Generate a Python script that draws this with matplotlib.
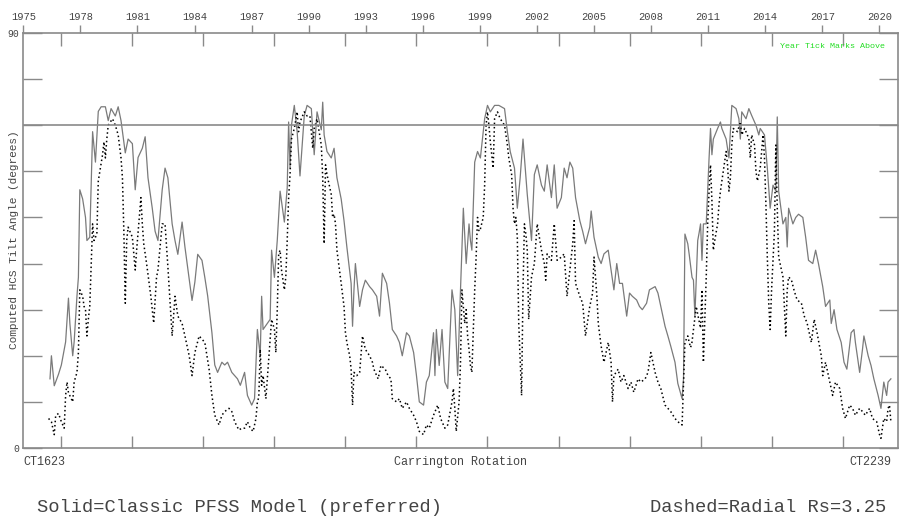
#!/usr/bin/env python3
"""
plot.py — HCS tilt angle per Carrington rotation
Output: out.png (906x517)
"""

import matplotlib
matplotlib.use("Agg")
import matplotlib.pyplot as plt

# ── Data: solid line (Classic PFSS model) ────────────────────
cr_classic = [
    1642, 1643, 1645, 1648, 1650, 1653, 1655, 1656, 1658, 1659, 1661, 1662, 1663, 1665, 1667, 1668,
    1670, 1672, 1674, 1676, 1678, 1681, 1683, 1685, 1688, 1690, 1692, 1695, 1697, 1700, 1702, 1704,
    1707, 1709, 1711, 1714, 1716, 1718, 1721, 1723, 1725, 1728, 1730, 1732, 1735, 1737, 1739, 1742,
    1744, 1746, 1749, 1751, 1753, 1756, 1758, 1760, 1763, 1765, 1767, 1770, 1772, 1774, 1776, 1779,
    1781, 1784, 1786, 1788, 1790, 1791, 1792, 1795, 1797, 1798, 1800, 1802, 1804, 1807, 1809, 1810,
    1811, 1812, 1814, 1816, 1818, 1821, 1823, 1826, 1828, 1830, 1833, 1834, 1835, 1837, 1840, 1842,
    1844, 1847, 1849, 1851, 1854, 1855, 1856, 1857, 1860, 1862, 1864, 1867, 1869, 1872, 1874, 1876,
    1879, 1881, 1883, 1886, 1888, 1890, 1893, 1895, 1898, 1900, 1902, 1905, 1907, 1909, 1912, 1913,
    1914, 1916, 1918, 1920, 1922, 1925, 1927, 1929, 1931, 1933, 1935, 1937, 1938, 1939, 1941, 1943,
    1945, 1948, 1950, 1952, 1955, 1958, 1962, 1964, 1966, 1969, 1971, 1973, 1975, 1976, 1978, 1981,
    1983, 1985, 1988, 1990, 1992, 1995, 1997, 1999, 2002, 2004, 2006, 2008, 2010, 2012, 2015, 2017,
    2019, 2022, 2023, 2025, 2028, 2030, 2032, 2035, 2037, 2039, 2041, 2043, 2045, 2048, 2050, 2052,
    2055, 2057, 2059, 2062, 2064, 2068, 2070, 2072, 2075, 2077, 2079, 2082, 2084, 2087, 2088, 2089,
    2091, 2092, 2094, 2095, 2096, 2098, 2099, 2100, 2101, 2102, 2104, 2105, 2106, 2107, 2108, 2109,
    2112, 2114, 2115, 2118, 2120, 2121, 2122, 2125, 2127, 2128, 2129, 2132, 2134, 2136, 2139, 2141,
    2142, 2145, 2147, 2149, 2151, 2153, 2154, 2155, 2158, 2160, 2161, 2162, 2165, 2167, 2169, 2172,
    2174, 2176, 2179, 2181, 2183, 2186, 2188, 2191, 2192, 2194, 2196, 2199, 2201, 2203, 2206, 2208,
    2209, 2212, 2214, 2215, 2218, 2220, 2222, 2225, 2227, 2229, 2231, 2232, 2234,
]
tilt_classic = [
    15, 20, 13.5, 16, 18, 23, 32.5, 27, 20, 23, 33, 37, 56, 54, 50, 45,
    45.7, 68.6, 62, 73, 74, 74, 71, 73.6, 72, 74, 71, 64, 67, 66, 56, 63,
    65, 67.5, 58.6, 52, 47, 45, 56, 60.7, 58.6, 48.6, 45, 42, 49, 43.6, 39, 32,
    36, 42, 40.7, 37, 33, 25, 18, 16.4, 18.6, 18, 18.6, 16.4, 15.7, 15, 13.6, 16.4,
    11.4, 9.3, 10.7, 25.7, 20, 32.9, 25.7, 27, 27.9, 42.9, 37, 45, 55.7, 49, 56.4, 70.7,
    60.7, 70, 74.3, 68.6, 59, 72, 74.3, 73.6, 63.6, 72.9, 69, 75, 67.9, 64.3, 62.9, 65,
    58.6, 54, 49.3, 43.6, 35.7, 26.4, 34.3, 40, 30.7, 34.3, 36.4, 35, 34.3, 32.9, 28.6, 37.9,
    35.7, 31.4, 25.7, 24.3, 22.9, 20, 25, 24.3, 20.7, 15.7, 10, 9.3, 14.3, 15.7, 25, 15.7,
    25.7, 17.9, 25.7, 14.3, 12.9, 34.3, 30, 15.7, 34.3, 52, 40, 48.6, 45, 42.9, 62, 64.3,
    62.9, 71.4, 74.3, 72.9, 74.3, 74.3, 73.6, 68.6, 64.3, 60.7, 52, 58.6, 67, 62.9, 55, 45,
    59.3, 61.4, 57, 55.7, 61.4, 54.3, 61.4, 52, 54.3, 60.7, 58.6, 62, 60.7, 54.3, 49.3, 47,
    44.3, 47.9, 51.4, 45.7, 41.4, 40, 42.1, 42.9, 38.6, 34.3, 40, 35.7, 35.7, 28.6, 33.6, 32.9,
    32.1, 30.7, 30, 31.4, 34.3, 35, 33.6, 30.7, 26.4, 24.3, 22.1, 18.6, 14, 10.7, 15, 46.4,
    44.3, 42, 37, 36.4, 28.6, 45, 46.7, 48.6, 40.7, 48.6, 48.6, 55.7, 62.9, 69.3, 63.6, 67,
    69.3, 70.7, 69.3, 67, 62.9, 68.6, 74.3, 73.6, 71.4, 67, 72.9, 71.4, 73.6, 72.1, 70, 67.9,
    69.3, 67.9, 60.7, 52, 57, 55.7, 71.8, 55.7, 48.6, 50, 43.6, 52, 48.6, 50, 50.7, 50,
    45.7, 40.7, 40, 42.9, 40, 35, 30.7, 32.1, 27, 30, 25.7, 22.9, 18.6, 17.1, 25, 25.7,
    22.9, 16.4, 21.4, 24.3, 20, 17.9, 15, 11.4, 8.6, 14.3, 11.4, 14.3, 15,
]

# ── Data: dashed line (Radial, Rs=3.25) ──────────────────────
cr_radial = [
    1641, 1643, 1645, 1646, 1648, 1650, 1652, 1653, 1654, 1655, 1658, 1659, 1661, 1662, 1663, 1665,
    1666, 1667, 1668, 1669, 1670, 1672, 1673, 1675, 1676, 1679, 1680, 1681, 1682, 1683, 1686, 1688,
    1690, 1692, 1693, 1694, 1695, 1696, 1697, 1700, 1702, 1703, 1706, 1707, 1708, 1710, 1713, 1715,
    1717, 1718, 1721, 1723, 1725, 1728, 1730, 1732, 1735, 1737, 1740, 1742, 1744, 1747, 1749, 1751,
    1754, 1756, 1758, 1761, 1763, 1765, 1768, 1770, 1772, 1775, 1777, 1779, 1781, 1783, 1785, 1787,
    1788, 1789, 1790, 1791, 1792, 1794, 1797, 1798, 1800, 1801, 1802, 1803, 1804, 1805, 1807, 1808,
    1809, 1810, 1811, 1812, 1814, 1816, 1817, 1818, 1821, 1823, 1825, 1827, 1828, 1830, 1833, 1834,
    1835, 1836, 1837, 1839, 1840, 1841, 1842, 1843, 1844, 1847, 1849, 1850, 1851, 1853, 1854, 1855,
    1856, 1858, 1860, 1862, 1864, 1867, 1869, 1870, 1873, 1875, 1878, 1880, 1882, 1883, 1886, 1888,
    1890, 1893, 1895, 1898, 1900, 1902, 1905, 1907, 1909, 1912, 1914, 1915, 1917, 1920, 1922, 1925,
    1926, 1927, 1928, 1930, 1931, 1932, 1934, 1935, 1936, 1937, 1938, 1939, 1941, 1942, 1943, 1944,
    1945, 1947, 1948, 1949, 1950, 1951, 1952, 1954, 1955, 1957, 1959, 1962, 1963, 1964, 1965, 1967,
    1968, 1969, 1970, 1971, 1972, 1974, 1975, 1976, 1977, 1978, 1979, 1981, 1983, 1985, 1988, 1990,
    1991, 1992, 1995, 1997, 1999, 2002, 2004, 2006, 2009, 2010, 2011, 2012, 2015, 2017, 2019, 2022,
    2024, 2025, 2027, 2028, 2030, 2032, 2035, 2037, 2038, 2039, 2042, 2044, 2046, 2049, 2051, 2053,
    2056, 2058, 2061, 2063, 2065, 2068, 2070, 2072, 2075, 2077, 2079, 2082, 2084, 2087, 2088, 2089,
    2091, 2092, 2093, 2094, 2095, 2097, 2098, 2099, 2100, 2101, 2102, 2104, 2105, 2106, 2107, 2108,
    2109, 2110, 2112, 2113, 2114, 2115, 2118, 2119, 2120, 2121, 2122, 2123, 2126, 2128, 2129, 2131,
    2134, 2135, 2136, 2138, 2139, 2140, 2142, 2144, 2145, 2146, 2147, 2148, 2149, 2150, 2152, 2153,
    2154, 2155, 2158, 2160, 2161, 2162, 2164, 2166, 2168, 2171, 2173, 2175, 2178, 2180, 2182, 2185,
    2186, 2188, 2191, 2193, 2195, 2198, 2200, 2202, 2205, 2207, 2209, 2212, 2214, 2216, 2219, 2221,
    2224, 2226, 2227, 2228, 2229, 2231, 2232, 2233, 2234,
]
tilt_radial = [
    6.4, 5.7, 2.9, 7, 7.5, 5.7, 4.3, 11.4, 14.3, 12, 10, 14.3, 16.4, 20.7, 34.3, 32.9,
    30.7, 30, 24.3, 27.9, 30.7, 48.6, 45, 46.4, 57.9, 63.6, 66.4, 62.9, 67, 70, 71.4, 70,
    67.9, 62.9, 58.6, 47, 31.4, 45, 47.9, 45.7, 38.6, 42.9, 54.3, 48.6, 44.3, 40, 32.9, 27.1,
    37, 38.6, 48.6, 48.6, 39.3, 24.3, 32.9, 28.6, 27, 24.3, 20, 15.7, 20.7, 24.3, 23.6, 22.9,
    17.1, 11.4, 7.1, 5, 7.1, 7.9, 8.6, 7.9, 5.7, 3.9, 4.3, 4.3, 5.7, 4.3, 3.6, 6.4,
    10, 11, 21.4, 13.6, 15.7, 10.7, 23.6, 27.9, 25.7, 20.7, 30, 42.1, 42.9, 38.6, 34.3, 37,
    45, 54.3, 59.3, 67, 69.3, 72.9, 68.6, 70.7, 72.9, 72, 72, 65, 69.3, 71.4, 65.7, 58.6,
    44.3, 61.4, 59.3, 56.4, 55, 50, 50.7, 48.6, 42.9, 35.7, 30.7, 25, 22.9, 20, 17.1, 9.3,
    16.4, 15.7, 16.4, 24.3, 21.4, 20, 18.6, 17.1, 15, 17.9, 17.1, 15.7, 15, 10.7, 10, 10.7,
    8.6, 10, 8.6, 7.1, 5.7, 3.6, 2.9, 5, 4.3, 7.1, 8.6, 9.3, 6.4, 4.3, 5, 10,
    12.9, 8.6, 3.6, 10, 18.6, 34.3, 27, 30, 24.3, 21.4, 17.9, 16.4, 34.3, 41.4, 50, 47,
    47.5, 50, 57, 70, 72.9, 70, 66.4, 60.7, 71.4, 72.9, 71.4, 70, 67.9, 65.7, 62.9, 59.3,
    52, 48.6, 50, 45.7, 27, 11.4, 34.3, 48.6, 46.4, 42.9, 27.9, 37.1, 40, 48.6, 42.9, 40,
    36.4, 42.1, 40.7, 48.6, 40.7, 41.4, 42.1, 32.9, 41.4, 44.3, 49.3, 35.7, 32.9, 31.4, 24.3, 30.7,
    33.6, 41.4, 33, 27, 22.1, 18.6, 22.9, 18.6, 10, 15.7, 17.1, 14.3, 15.7, 12.9, 14.3, 12.1,
    15, 14.3, 15, 16.4, 20.7, 16.4, 14.3, 12.9, 9.3, 8.6, 7.9, 6.4, 5.7, 5, 14.3, 22.9,
    24.3, 22.9, 21.8, 23, 25.7, 30.7, 29, 27.5, 26, 34.3, 18.6, 37.1, 48.6, 55.7, 61.4, 53.6,
    42.9, 45, 48.6, 52.9, 55.7, 57.9, 64.3, 61.4, 55.7, 58.6, 65.7, 69.3, 68.6, 70.7, 67.9, 69.3,
    67.1, 62.9, 67.9, 65.7, 60, 57.9, 60.7, 67.9, 62.9, 52.9, 41.4, 31.4, 25.7, 34.3, 47, 65.7,
    52, 41.4, 37.1, 24.3, 34.3, 37.1, 36.4, 34, 32.1, 31.4, 28.6, 27.1, 22.9, 27.9, 25, 20,
    15.7, 18.6, 14.3, 11.4, 14.3, 12.9, 8.6, 6.4, 9.3, 8.6, 7.1, 8.6, 7.9, 7.1, 8.6, 6.4,
    5.7, 2.9, 2.1, 4.3, 6.4, 5.7, 8.6, 9.3, 5.7,
]

CR_MIN, CR_MAX = 1623, 2239
cr_ticks = list(range(1650, 2201, 50))
year_ticks = list(range(1975, 2021, 3))
tilt_ticks = list(range(0, 91, 10))
tilt_labels = ["0", "", "", "", "", "", "", "", "", "90"]
REF_TILT = 70


# Carrington rotation <-> decimal year
def cr_a_anio(cr):
    return 1853.857 + (cr - 1) * 27.2753 / 365.25


def anio_a_cr(anio):
    return (anio - 1853.857) * 365.25 / 27.2753 + 1


# ── Figure ───────────────────────────────────────────────────
plt.rcParams["font.family"] = ["Liberation Mono", "DejaVu Sans Mono"]
GRIS = "#8a8a8a"
TEXTO = "#444444"

fig = plt.figure(figsize=(9.06, 5.17), dpi=100)
ax = fig.add_axes([23 / 906, 1 - 448 / 517, 875 / 906, 415 / 517])

ax.plot(cr_classic, tilt_classic, color="#7a7a7a", lw=0.9)
ax.plot(cr_radial, tilt_radial, color="black", lw=1.1, linestyle=(0, (1, 1.8)))
ax.axhline(REF_TILT, color=GRIS, lw=1.2)

ax.set_xlim(CR_MIN, CR_MAX)
ax.set_ylim(0, 90)

for lado in ax.spines.values():
    lado.set_color(GRIS)
    lado.set_linewidth(1.2)

ax.set_xticks(cr_ticks)
ax.set_xticklabels([])
ax.tick_params(axis="x", which="both", direction="in", length=9, width=1,
               color=GRIS, top=True, bottom=True)
ax.set_yticks(tilt_ticks)
ax.set_yticklabels(tilt_labels, fontsize=7, color=TEXTO)
ax.tick_params(axis="y", direction="in", length=14, width=1, color=GRIS,
               left=True, right=True, pad=3)

# year axis on top, ticks pointing outwards
ax_anio = ax.secondary_xaxis("top", functions=(cr_a_anio, anio_a_cr))
ax_anio.set_xticks(year_ticks)
ax_anio.set_xticklabels([str(a) for a in year_ticks], fontsize=7.5, color=TEXTO)
ax_anio.tick_params(direction="out", length=6, width=1, color=GRIS, pad=2)
ax_anio.spines["top"].set_visible(False)

# y label placed by hand so it stays inside the figure
fig.text(14 / 906, 1 - 240 / 517, "Computed HCS Tilt Angle (degrees)",
         rotation=90, ha="center", va="center", fontsize=8, color=TEXTO)
ax.text(0.0, -0.02, "CT%d" % CR_MIN, transform=ax.transAxes, ha="left", va="top",
        fontsize=8.5, color=TEXTO)
ax.text(0.5, -0.02, "Carrington Rotation", transform=ax.transAxes, ha="center",
        va="top", fontsize=8.5, color=TEXTO)
ax.text(0.992, -0.02, "CT%d" % CR_MAX, transform=ax.transAxes, ha="right", va="top",
        fontsize=8.5, color=TEXTO)
ax.text(0.985, 0.975, "Year Tick Marks Above", transform=ax.transAxes, ha="right",
        va="top", fontsize=6, color="#22dd22")

fig.text(37 / 906, 1 - 508 / 517, "Solid=Classic PFSS Model (preferred)",
         ha="left", va="center", fontsize=13.5, color=TEXTO)
fig.text(886 / 906, 1 - 508 / 517, "Dashed=Radial Rs=3.25",
         ha="right", va="center", fontsize=13.5, color=TEXTO)

fig.savefig("out.png", dpi=100)
plt.close(fig)
